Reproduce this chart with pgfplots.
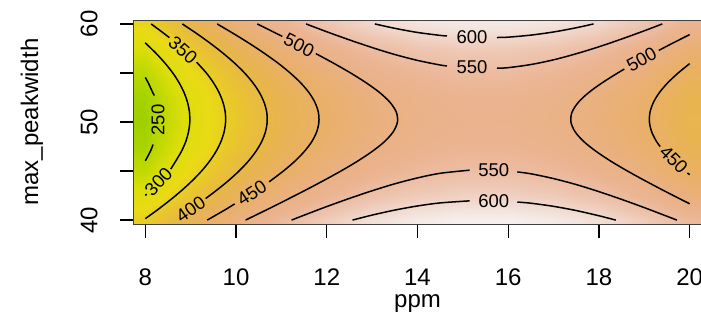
\documentclass[border=0pt]{standalone}
\usepackage{fontspec}
\setmainfont{Liberation Sans}
\usepackage{pgfplots}
\usepackage{pgfplotstable}
\pgfplotsset{compat=1.18}
\newcommand{\clab}{\fontsize{18.5}{21}\selectfont}
\newcommand{\axf}{\fontsize{24}{28}\selectfont}
\pgfplotsset{colormap={rterr}{rgb255(220pt)=(150,205,0) rgb255(250pt)=(182,215,0) rgb255(290pt)=(220,222,10) rgb255(330pt)=(233,218,22) rgb255(370pt)=(233,196,48) rgb255(410pt)=(232,181,76) rgb255(450pt)=(233,176,102) rgb255(490pt)=(234,176,126) rgb255(530pt)=(235,181,148) rgb255(570pt)=(238,198,178) rgb255(610pt)=(242,222,213) rgb255(650pt)=(246,244,244)}}
\pgfplotstableread{
x y z
7.75 39.6 353.6
8 39.6 353.6
9 39.6 426.1
10 39.6 488.2
11 39.6 539.9
12 39.6 581.2
13 39.6 612.1
14 39.6 632.6
15 39.6 642.7
16 39.6 642.3
17 39.6 631.6
18 39.6 610.5
19 39.6 579.0
20 39.6 537.1
20.25 39.6 537.1

7.75 40 353.6
8 40 353.6
9 40 426.1
10 40 488.2
11 40 539.9
12 40 581.2
13 40 612.1
14 40 632.6
15 40 642.7
16 40 642.3
17 40 631.6
18 40 610.5
19 40 579.0
20 40 537.1
20.25 40 537.1

7.75 42.5 300.3
8 42.5 300.3
9 42.5 372.8
10 42.5 434.9
11 42.5 486.6
12 42.5 527.9
13 42.5 558.8
14 42.5 579.3
15 42.5 589.4
16 42.5 589.0
17 42.5 578.3
18 42.5 557.2
19 42.5 525.7
20 42.5 483.8
20.25 42.5 483.8

7.75 45 261.7
8 45 261.7
9 45 334.2
10 45 396.3
11 45 448.0
12 45 489.3
13 45 520.2
14 45 540.7
15 45 550.8
16 45 550.4
17 45 539.7
18 45 518.6
19 45 487.1
20 45 445.2
20.25 45 445.2

7.75 47.5 237.9
8 47.5 237.9
9 47.5 310.4
10 47.5 372.5
11 47.5 424.2
12 47.5 465.5
13 47.5 496.4
14 47.5 516.9
15 47.5 527.0
16 47.5 526.6
17 47.5 515.9
18 47.5 494.8
19 47.5 463.3
20 47.5 421.4
20.25 47.5 421.4

7.75 50 228.8
8 50 228.8
9 50 301.3
10 50 363.4
11 50 415.1
12 50 456.4
13 50 487.3
14 50 507.8
15 50 517.9
16 50 517.5
17 50 506.8
18 50 485.7
19 50 454.2
20 50 412.3
20.25 50 412.3

7.75 52.5 234.5
8 52.5 234.5
9 52.5 307.0
10 52.5 369.1
11 52.5 420.8
12 52.5 462.1
13 52.5 493.0
14 52.5 513.5
15 52.5 523.6
16 52.5 523.2
17 52.5 512.5
18 52.5 491.4
19 52.5 459.9
20 52.5 418.0
20.25 52.5 418.0

7.75 55 254.9
8 55 254.9
9 55 327.4
10 55 389.5
11 55 441.2
12 55 482.5
13 55 513.4
14 55 533.9
15 55 544.0
16 55 543.6
17 55 532.9
18 55 511.8
19 55 480.3
20 55 438.4
20.25 55 438.4

7.75 57.5 290.1
8 57.5 290.1
9 57.5 362.6
10 57.5 424.7
11 57.5 476.4
12 57.5 517.7
13 57.5 548.6
14 57.5 569.1
15 57.5 579.2
16 57.5 578.8
17 57.5 568.1
18 57.5 547.0
19 57.5 515.5
20 57.5 473.6
20.25 57.5 473.6

7.75 60 340.0
8 60 340.0
9 60 412.5
10 60 474.6
11 60 526.3
12 60 567.6
13 60 598.5
14 60 619.0
15 60 629.1
16 60 628.7
17 60 618.0
18 60 596.9
19 60 565.4
20 60 523.5
20.25 60 523.5

7.75 60.4 340.0
8 60.4 340.0
9 60.4 412.5
10 60.4 474.6
11 60.4 526.3
12 60.4 567.6
13 60.4 598.5
14 60.4 619.0
15 60.4 629.1
16 60.4 628.7
17 60.4 618.0
18 60.4 596.9
19 60.4 565.4
20 60.4 523.5
20.25 60.4 523.5
}\surfdata
\begin{document}
\begin{tikzpicture}
\begin{axis}[name=ax, scale only axis, width=567pt, height=204pt,
  xmin=7.75, xmax=20.25, ymin=39.6, ymax=60.4,
  axis on top, enlargelimits=false,
  xtick={8,10,12,14,16,18,20}, ytick={40,45,50,55,60}, yticklabels={40,,50,,60},
  tick align=outside, tick pos=left, major tick length=14pt,
  every tick/.style={black, line width=1.3pt},
  axis line style={black!75, line width=1pt},
  colormap name=rterr, point meta min=220, point meta max=650,
  /pgf/number format/assume math mode=true,
  ticklabel style={font=\axf},
  xticklabel style={anchor=base, inner sep=0pt, yshift=-47pt},
  yticklabel style={xshift=-22.7pt, rotate=90, anchor=base, inner sep=0pt},
  xlabel={ppm}, ylabel={max\_peakwidth},
  label style={font=\axf},
  xlabel style={at={(axis description cs:0.5,0)}, anchor=base, yshift=-83pt},
  ylabel style={at={(axis description cs:-0.18,0.5)}, anchor=center},
]
\addplot[surf, shader=interp, mesh/cols=15, point meta=explicit] table[x=x, y=y, meta=z] {\surfdata};

\pgfplotsset{every axis plot/.append style={black, line width=1.5pt}}
% 250
\addplot[smooth] coordinates {(8,46.04) (8.11,47) (8.17,47.7)};
\addplot[smooth] coordinates {(8.2,52.7) (8.163,53) (8.064,54) (8,54.54)};
% 300
\addplot[smooth] coordinates {(8,42.515) (8.03,42.65)};
\addplot[smooth] coordinates {(8.56,45.2) (8.668,46) (8.795,47) (8.891,48) (8.952,49) (8.98,50) (8.973,51) (8.93,52) (8.854,53) (8.745,54) (8.605,55) (8.434,56) (8.236,57) (8.014,58) (8,58.06)};
% 350
\addplot[smooth] coordinates {(8.129,60) (8.419,59) (8.53,58.6)};
\addplot[smooth] coordinates {(9.13,56.1) (9.345,55) (9.502,54) (9.626,53) (9.712,52) (9.761,51) (9.769,50) (9.737,49) (9.667,48) (9.559,47) (9.416,46) (9.239,45) (9.031,44) (8.796,43) (8.536,42) (8.255,41) (8,40.15)};
% 400
\addplot[smooth] coordinates {(9.33,42.2) (9.56,43) (9.827,44) (10.065,45) (10.27,46) (10.437,47) (10.565,48) (10.648,49) (10.686,50) (10.676,51) (10.618,52) (10.516,53) (10.371,54) (10.188,55) (9.968,56) (9.717,57) (9.439,58) (9.138,59) (8.816,60)};
% 450 left
\addplot[smooth] coordinates {(9.365,40) (9.74,41) (9.97,41.65)};
\addplot[smooth] coordinates {(10.73,43.9) (11.043,45) (11.296,46) (11.506,47) (11.67,48) (11.778,49) (11.827,50) (11.814,51) (11.739,52) (11.607,53) (11.423,54) (11.193,55) (10.926,56) (10.624,57) (10.298,58) (9.949,59) (9.583,60)};
% 500 left
\addplot[smooth] coordinates {(10.466,60) (10.902,59) (11.02,58.72)};
\addplot[smooth] coordinates {(11.76,56.97) (12.148,56) (12.525,55) (12.868,54) (13.166,53) (13.395,52) (13.534,51) (13.558,50) (13.465,49) (13.273,48) (13.001,47) (12.676,46) (12.311,45) (11.918,44) (11.509,43) (11.085,42) (10.652,41) (10.211,40)};
% 600 top
\addplot[smooth] coordinates {(13.06,60) (13.5,59.55) (14,59.13) (14.5,58.83) (14.65,58.77)};
\addplot[smooth] coordinates {(15.75,58.615) (16,58.65) (16.5,58.86) (17,59.18) (17.5,59.61) (17.88,60)};
% 550 top
\addplot[smooth] coordinates {(11.543,60) (12,59.2) (12.5,58.37) (13,57.59) (13.5,56.88) (14,56.28) (14.5,55.81) (14.65,55.72)};
\addplot[smooth] coordinates {(15.75,55.48) (16,55.54) (16.5,55.86) (17,56.34) (17.5,56.96) (18,57.67) (18.5,58.46) (19,59.3) (19.397,60)};
% 550 bottom
\addplot[smooth] coordinates {(11.223,40) (11.5,40.5) (12,41.38) (12.5,42.21) (13,42.99) (13.5,43.7) (14,44.3) (14.5,44.77) (15.15,45.09)};
\addplot[smooth] coordinates {(16.2,44.91) (16.5,44.72) (17,44.23) (17.5,43.62) (18,42.9) (18.5,42.11) (19,41.27) (19.5,40.39) (19.717,40)};
% 600 bottom
\addplot[smooth] coordinates {(12.568,40) (13,40.51) (13.5,41.02) (14,41.44) (14.5,41.75) (15.15,41.96)};
\addplot[smooth] coordinates {(16.2,41.84) (16.5,41.72) (17,41.4) (17.5,40.97) (18,40.44) (18.372,40)};
% 500 right
\addplot[smooth] coordinates {(20,41.66) (19.855,42) (19.431,43) (19.022,44) (18.629,45) (18.264,46) (17.939,47) (17.667,48) (17.475,49) (17.382,50) (17.406,51) (17.545,52) (17.774,53) (18.072,54) (18.415,55) (18.56,55.4)};
\addplot[smooth] coordinates {(19.32,57.3) (19.609,58) (20,58.91)};
% 450 right
\addplot[smooth] coordinates {(20,44.63) (19.95,44.8)};
\addplot[smooth] coordinates {(19.35,47.5) (19.27,48) (19.162,49) (19.113,50) (19.126,51) (19.201,52) (19.333,53) (19.517,54) (19.747,55) (20,55.95)};

% contour labels
\node[font=\clab, inner sep=0pt, rotate=90] at (axis cs:8.278,50.2) {250};
\node[font=\clab, inner sep=0pt, rotate=46.9] at (axis cs:8.29,43.9) {300};
\node[font=\clab, inner sep=0pt, rotate=-41.7] at (axis cs:8.83,57.35) {350};
\node[font=\clab, inner sep=0pt, rotate=34.6] at (axis cs:9.0,41.1) {400};
\node[font=\clab, inner sep=0pt, rotate=33.1] at (axis cs:10.35,42.77) {450};
\node[font=\clab, inner sep=0pt, rotate=-27.2] at (axis cs:11.39,57.85) {500};
\node[font=\clab, inner sep=0pt] at (axis cs:15.2,58.65) {600};
\node[font=\clab, inner sep=0pt] at (axis cs:15.2,55.55) {550};
\node[font=\clab, inner sep=0pt] at (axis cs:15.68,45.05) {550};
\node[font=\clab, inner sep=0pt] at (axis cs:15.68,41.95) {600};
\node[font=\clab, inner sep=0pt, rotate=28.5] at (axis cs:18.94,56.35) {500};
\node[font=\clab, inner sep=0pt, rotate=-45] at (axis cs:19.65,46.15) {450};
\end{axis}
\pgfresetboundingbox
\path[use as bounding box] ([shift={(-134pt,-93pt)}]ax.south west) rectangle ([shift={(0pt,20pt)}]ax.north east);
\end{tikzpicture}
\end{document}
